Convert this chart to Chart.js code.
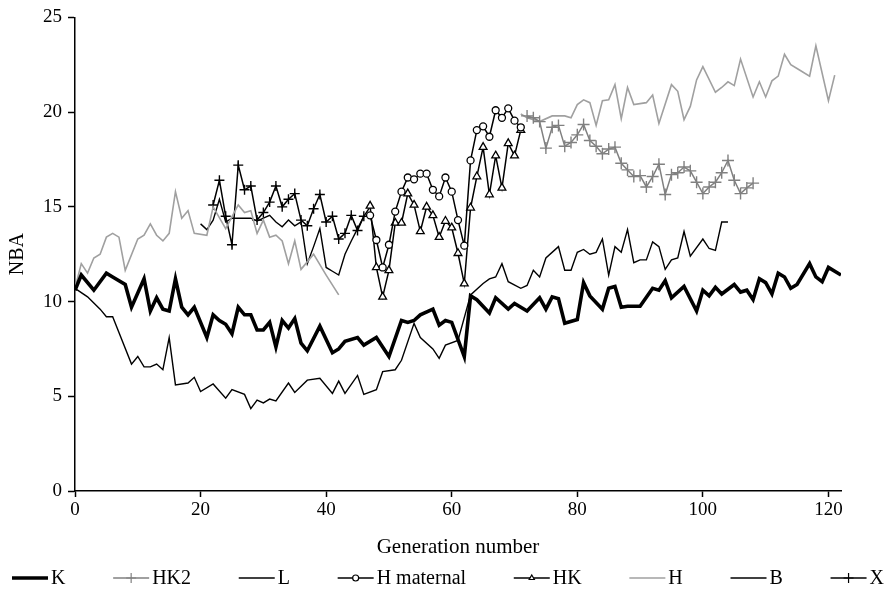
<!DOCTYPE html>
<html>
<head>
<meta charset="utf-8">
<script src="https://cdn.jsdelivr.net/npm/chart.js"></script>
<style>
  html, body { margin: 0; padding: 0; background: #fff; }
  #wrap { width: 895px; height: 596px; }
</style>
</head>
<body>
<div id="wrap"><canvas id="nbaChart" width="895" height="596"></canvas></div>
<script>
// generation numbers and NBA values
const kGen = [0,1,3,5,6,8,9,11,12,13,14,15,16,17,18,19,21,22,23,24,25,26,27,28,29,30,31,32,33,34,35,36,37,39,41,42,43,45,46,48,50,52,53,54,55,57,58,59,60,62,63,64,66,67,69,70,72,74,75,76,77,78,80,81,82,84,85,86,87,88,90,92,93,94,95,97,99,100,101,102,103,105,106,107,108,109,110,111,112,113,114,115,117,118,119,120,122];
const kNBA = [10.6,11.4,10.6,11.5,11.3,10.9,9.7,11.2,9.5,10.2,9.6,9.5,11.2,9.7,9.3,9.7,8.1,9.3,9.0,8.8,8.3,9.7,9.3,9.3,8.5,8.5,8.9,7.6,9.0,8.6,9.1,7.8,7.4,8.7,7.3,7.5,7.9,8.1,7.7,8.1,7.1,9.0,8.9,9.0,9.3,9.6,8.75,9.0,8.9,7.1,10.3,10.1,9.4,10.2,9.6,9.9,9.5,10.2,9.6,10.25,10.15,8.85,9.05,11.0,10.3,9.6,10.7,10.8,9.7,9.75,9.75,10.7,10.6,11.1,10.2,10.8,9.5,10.6,10.3,10.75,10.4,10.9,10.5,10.6,10.1,11.2,11.0,10.4,11.5,11.3,10.7,10.9,12.0,11.3,11.05,11.8,11.4];

const hk2Gen = [72,73,74,75,76,77,78,79,80,81,82,83,84,85,86,87,88,89,90,91,92,93,94,95,96,97,98,99,100,101,102,103,104,105,106,107,108];
const hk2NBA = [19.8,19.7,19.5,18.1,19.2,19.3,18.2,18.4,18.8,19.35,18.5,18.2,17.8,18.05,18.15,17.3,16.95,16.6,16.65,16.05,16.6,17.25,15.65,16.7,16.8,17.1,16.9,16.3,15.7,16.05,16.3,16.8,17.45,16.4,15.7,16.0,16.25];

const lGen = [0,2,4,5,6,9,10,11,12,13,14,15,16,18,19,20,22,24,25,27,28,29,30,31,32,34,35,37,39,41,42,43,45,46,48,49,51,52,54,55,57,58,59,61,63,65,66,67,68,69,71,72,73,74,75,77,78,79,80,81,82,83,84,85,86,87,88,89,90,91,92,93,94,95,96,97,98,100,101,102,103,104];
const lNBA = [10.7,10.25,9.6,9.2,9.2,6.7,7.1,6.55,6.55,6.7,6.4,8.1,5.6,5.7,6.0,5.25,5.65,4.9,5.35,5.1,4.35,4.8,4.65,4.85,4.75,5.7,5.2,5.85,5.95,5.15,5.8,5.15,6.1,5.1,5.35,6.3,6.4,6.9,8.85,8.1,7.5,7.0,7.7,7.95,10.35,10.95,11.2,11.3,12.0,11.05,10.7,10.85,11.65,11.3,12.3,12.9,11.65,11.65,12.6,12.75,12.5,12.6,13.3,11.4,12.9,12.6,13.8,12.05,12.2,12.2,13.15,12.9,11.7,12.2,12.3,13.7,12.4,13.3,12.8,12.7,14.2,14.2];

const hmGen = [47,48,49,50,51,52,53,54,55,56,57,58,59,60,61,62,63,64,65,66,67,68,69,70,71];
const hmNBA = [14.55,13.25,11.8,13.0,14.75,15.8,16.55,16.45,16.75,16.75,15.9,15.55,16.55,15.8,14.3,12.95,17.45,19.05,19.25,18.7,20.1,19.7,20.2,19.55,19.2];

const hkGen = [47,48,49,50,51,52,53,54,55,56,57,58,59,60,61,62,63,64,65,66,67,68,69,70,71];
const hkNBA = [15.05,11.8,10.25,11.65,14.15,14.15,15.7,15.1,13.7,15.0,14.55,13.4,14.25,13.9,12.55,10.95,14.95,16.6,18.15,15.65,17.7,16.0,18.35,17.7,19.05];

// H has a gap between gen 42 and 71
const hGen = [0,1,2,3,4,5,6,7,8,10,11,12,13,14,15,16,17,18,19,21,22,24,26,27,28,29,30,31,32,33,34,35,36,38,40,42,56,71,72,74,76,77,78,79,80,81,82,83,84,85,86,87,88,89,91,92,93,95,96,97,98,99,100,102,103,104,105,106,108,109,110,111,112,113,114,115,117,118,120,121];
const hNBA = [10.7,12.0,11.5,12.3,12.5,13.4,13.6,13.4,11.65,13.3,13.5,14.1,13.5,13.2,13.6,15.8,14.4,14.8,13.6,13.5,15.0,13.85,15.1,14.7,14.8,13.6,14.3,13.4,13.5,13.2,12.0,13.2,11.7,12.5,11.4,10.35,null,19.9,19.7,19.5,19.8,19.8,19.8,19.7,20.4,20.65,20.5,19.3,20.6,20.65,21.45,19.65,21.3,20.4,20.5,20.9,19.4,21.45,21.1,19.6,20.3,21.7,22.4,21.05,21.3,21.6,21.4,22.8,20.8,21.6,20.8,21.65,21.9,23.05,22.5,22.3,21.9,23.5,20.6,21.95];

const bGen = [20,21,22,23,24,25,26,27,28,29,30,31,32,33,34,35,36,37,38,39,40,41,42,43,44,45,46,47];
const bNBA = [14.1,13.8,14.3,15.4,14.2,14.4,14.4,14.4,14.4,14.25,14.4,14.55,14.2,13.95,14.3,14.0,14.2,12.0,12.9,13.85,11.8,11.6,11.4,12.5,13.2,13.85,14.5,15.0];

const xGen = [22,23,24,25,26,27,28,29,30,31,32,33,34,35,36,37,38,39,40,41,42,43,44,45,46];
const xNBA = [15.1,16.4,14.5,13.0,17.2,15.9,16.1,14.3,14.7,15.25,16.1,15.0,15.4,15.7,14.3,14.0,14.9,15.65,14.2,14.5,13.3,13.6,14.55,13.75,14.5];

const xTicksStep = 20;
const yTicksStep = 5;

function pts(gens, vals) {
    return gens.map((g, i) => ({ x: g, y: vals[i] }));
}

const FONT = "'Liberation Serif', 'Times New Roman', serif";

function series(label, gens, vals, extra) {
    return Object.assign({
        label: label,
        data: pts(gens, vals),
        borderColor: '#000',
        backgroundColor: '#000',
        borderWidth: 1.4,
        pointRadius: 0,
        tension: 0,
        spanGaps: false
    }, extra);
}

// legend drawn under the axis title: line sample + marker + text
const lineLegend = {
    id: 'lineLegend',
    afterDraw(chart) {
        const ctx = chart.ctx;
        const sets = chart.data.datasets;
        ctx.save();
        ctx.font = '20px ' + FONT;
        const lineLen = 36, gap = 3;
        const widths = sets.map(d => lineLen + gap + ctx.measureText(d.label).width);
        const total = widths.reduce((a, b) => a + b, 0);
        const left = 12, right = 884;
        const space = (right - left - total) / (sets.length - 1);
        const y = 578;
        let x = left;
        sets.forEach((d, i) => {
            ctx.strokeStyle = d.borderColor;
            ctx.lineWidth = d.borderWidth;
            ctx.beginPath();
            ctx.moveTo(x, y);
            ctx.lineTo(x + lineLen, y);
            ctx.stroke();
            if (d.pointRadius > 0) {
                ctx.fillStyle = d.pointBackgroundColor || '#fff';
                ctx.strokeStyle = d.pointBorderColor || d.borderColor;
                ctx.lineWidth = 1.2;
                Chart.helpers.drawPoint(ctx, {
                    pointStyle: d.pointStyle,
                    radius: d.pointStyle === 'cross' ? 5 : 3,
                    borderWidth: 1.2,
                    rotation: 0
                }, x + lineLen / 2, y);
            }
            ctx.fillStyle = '#000';
            ctx.textBaseline = 'middle';
            ctx.textAlign = 'left';
            ctx.fillText(d.label, x + lineLen + gap, y + 1);
            x += widths[i] + space;
        });
        ctx.restore();
    }
};

const data = {
    datasets: [
        series('K', kGen, kNBA, { borderWidth: 3.6 }),
        series('HK2', hk2Gen, hk2NBA, {
            borderColor: '#808080', borderWidth: 1.5,
            pointStyle: 'cross', pointRadius: 6, pointBorderColor: '#808080', pointBorderWidth: 1.4
        }),
        series('L', lGen, lNBA, { borderWidth: 1.4 }),
        series('H maternal', hmGen, hmNBA, {
            borderWidth: 1.5, pointStyle: 'circle', pointRadius: 3.5,
            pointBackgroundColor: '#fff', pointBorderColor: '#000', pointBorderWidth: 1.3
        }),
        series('HK', hkGen, hkNBA, {
            borderWidth: 1.5, pointStyle: 'triangle', pointRadius: 4.5,
            pointBackgroundColor: '#fff', pointBorderColor: '#000', pointBorderWidth: 1.3
        }),
        series('H', hGen, hNBA, { borderColor: '#a0a0a0', borderWidth: 1.6 }),
        series('B', bGen, bNBA, { borderWidth: 1.4 }),
        series('X', xGen, xNBA, {
            borderWidth: 1.5, pointStyle: 'cross', pointRadius: 5,
            pointBorderColor: '#000', pointBorderWidth: 1.4
        })
    ]
};

const options = {
    responsive: false,
    animation: false,
    devicePixelRatio: 1,
    layout: { padding: { top: 17, right: 54, bottom: 0, left: 0 } },
    plugins: {
        legend: { display: false },
        tooltip: { enabled: false }
    },
    scales: {
        x: {
            type: 'linear',
            min: 0,
            max: 122,
            afterFit: (scale) => { scale.height = 105; },
            border: { display: true, color: '#000', width: 1.5 },
            grid: { drawOnChartArea: false, color: '#000', tickLength: 6, tickWidth: 1.5 },
            ticks: {
                stepSize: xTicksStep,
                includeBounds: false,
                color: '#000',
                padding: 2,
                maxRotation: 0,
                font: { family: FONT, size: 19 }
            },
            title: {
                display: true,
                text: 'Generation number',
                color: '#000',
                font: { family: FONT, size: 21 },
                padding: { top: 0, bottom: 36 }
            }
        },
        y: {
            min: 0,
            max: 25,
            afterFit: (scale) => { scale.width = 75; },
            border: { display: true, color: '#000', width: 1.5 },
            grid: { drawOnChartArea: false, color: '#000', tickLength: 7, tickWidth: 1.5 },
            ticks: {
                stepSize: yTicksStep,
                color: '#000',
                padding: 6,
                font: { family: FONT, size: 19 }
            },
            title: {
                display: true,
                text: 'NBA',
                color: '#000',
                font: { family: FONT, size: 20 },
                padding: { top: 6, bottom: 0 }
            }
        }
    }
};

new Chart(document.getElementById('nbaChart'), {
    type: 'line',
    data: data,
    options: options,
    plugins: [lineLegend]
});
</script>
</body>
</html>
